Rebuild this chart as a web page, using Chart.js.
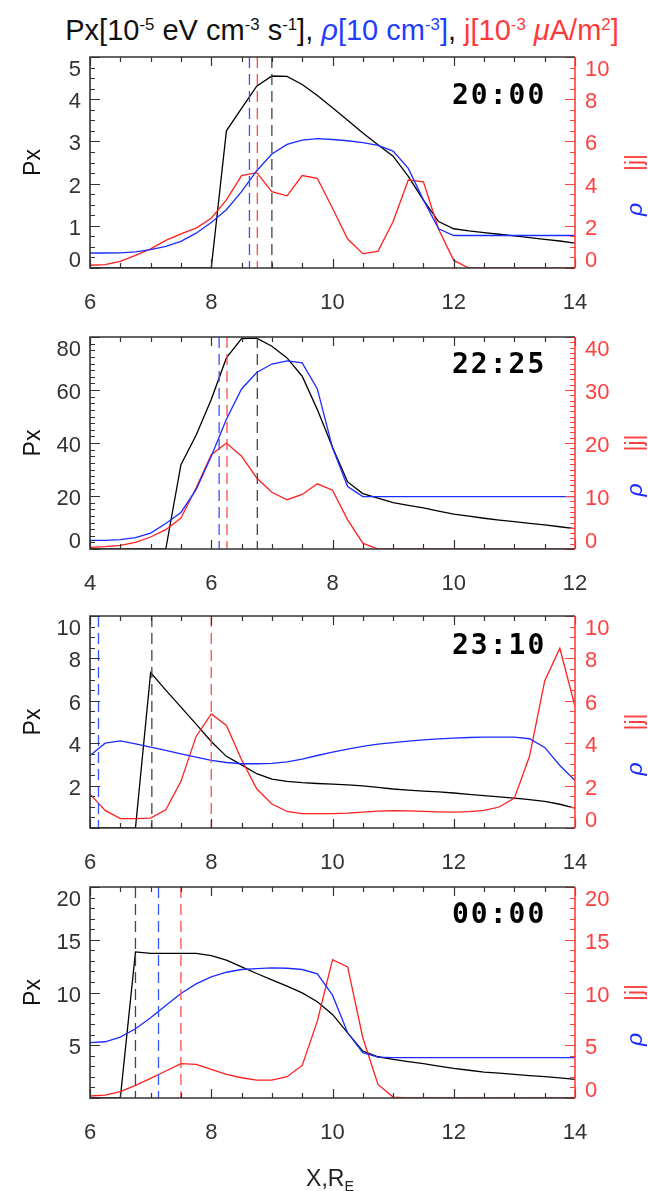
<!DOCTYPE html>
<html>
<head>
<meta charset="utf-8">
<script src="https://cdn.jsdelivr.net/npm/chart.js@4.4.1/dist/chart.umd.min.js"></script>
<style>
  body { margin: 0; background: #fff; width: 648px; height: 1191px; position: relative; overflow: hidden;
         font-family: "Liberation Sans", Arial, sans-serif; }
  canvas { position: absolute; left: 0; }
  #title { position: absolute; left: 18px; width: 648px; top: 16px; text-align: center; font-size: 29px;
           line-height: 29px; white-space: nowrap; color: #111; }
  #xtitle { position: absolute; left: 6px; width: 648px; top: 1166px; text-align: center; font-size: 23px;
            line-height: 24px; color: #222; }
  sup { font-size: 0.58em; vertical-align: 0.62em; line-height: 0; }
  sub { font-size: 0.62em; vertical-align: -0.35em; line-height: 0; }
  .b { color: #1f3dff; }
  .r { color: #ff3a3a; }
</style>
</head>
<body>
<div id="title">Px[10<sup>-5</sup> eV cm<sup>-3</sup> s<sup>-1</sup>], <span class="b"><i>ρ</i>[10 cm<sup>-3</sup>]</span>, <span class="r">j[10<sup>-3</sup> <i>μ</i>A/m<sup>2</sup>]</span></div>
<canvas id="p0" width="648"></canvas>
<canvas id="p1" width="648"></canvas>
<canvas id="p2" width="648"></canvas>
<canvas id="p3" width="648"></canvas>
<div id="xtitle">X,R<sub>E</sub></div>
<script>
// x grids (R_E)
const xGridA = [6, 6.25, 6.5, 6.75, 7, 7.25, 7.5, 7.75, 8, 8.25, 8.5, 8.75, 9, 9.25, 9.5, 9.75, 10,
                10.25, 10.5, 10.75, 11, 11.25, 11.5, 11.75, 12, 12.25, 12.5, 12.75, 13, 13.25, 13.5, 13.75, 14];
const xGridB = [4, 4.25, 4.5, 4.75, 5, 5.25, 5.5, 5.75, 6, 6.25, 6.5, 6.75, 7, 7.25, 7.5, 7.75, 8,
                8.25, 8.5, 8.75, 9, 9.25, 9.5, 9.75, 10, 10.25, 10.5, 10.75, 11, 11.25, 11.5, 11.75, 12];

// 20:00
const px2000  = [0, 0, 0, 0, 0, 0, 0, 0, 0, 3.25, 3.78, 4.31, 4.55, 4.54, 4.35, 4.09, 3.80,
                 3.50, 3.20, 2.92, 2.65, 2.17, 1.61, 1.10, 0.93, 0.88, 0.84, 0.80, 0.76, 0.72, 0.68, 0.64, 0.59];
const rho2000 = [0.71, 0.71, 0.72, 0.76, 0.87, 1.02, 1.26, 1.65, 2.16, 2.76, 3.62, 4.61, 5.40, 5.86, 6.06, 6.13, 6.09,
                 6.03, 5.94, 5.81, 5.54, 4.72, 3.23, 1.86, 1.54, 1.54, 1.54, 1.54, 1.54, 1.54, 1.54, 1.54, 1.54];
const j2000   = [0.13, 0.16, 0.31, 0.6, 0.91, 1.31, 1.62, 1.89, 2.36, 3.23, 4.38, 4.52, 3.62, 3.42, 4.38, 4.25, 2.83,
                 1.37, 0.68, 0.79, 2.2, 4.17, 4.08, 1.84, 0.36, 0, 0, 0, 0, 0, 0, 0, 0];
// 22:25
const px2225  = [0, 0, 0, 0, 0, 0, 31.8, 42.9, 56.4, 72.1, 79.4, 79.6, 76.5, 72.1, 65.2, 52.6, 38.4,
                 25.3, 20.9, 19.2, 17.5, 16.5, 15.5, 14.3, 13.2, 12.4, 11.6, 10.9, 10.3, 9.7, 9.1, 8.4, 7.7];
const rho2225 = [1.64, 1.64, 1.76, 2.14, 3.0, 4.8, 6.9, 11.2, 17.5, 24.5, 30.2, 33.3, 34.9, 35.5, 35.1, 30.2, 19.1,
                 11.8, 9.9, 9.9, 9.9, 9.9, 9.9, 9.9, 9.9, 9.9, 9.9, 9.9, 9.9, 9.9, 9.9, 9.9, 9.9];
const j2225   = [0.3, 0.44, 0.7, 1.26, 2.26, 3.65, 5.85, 11.5, 17.8, 20.0, 17.5, 13.4, 10.7, 9.3, 10.3, 12.3, 11.1,
                 5.5, 1.1, 0, 0, 0, 0, 0, 0, 0, 0, 0, 0, 0, 0, 0, 0];
// 23:10
const px2310  = [0, 0, 0, 0, 7.33, 6.5, 5.7, 4.9, 4.08, 3.38, 2.98, 2.56, 2.31, 2.2, 2.14, 2.1, 2.07,
                 2.03, 1.99, 1.92, 1.84, 1.79, 1.74, 1.70, 1.65, 1.59, 1.53, 1.47, 1.41, 1.34, 1.26, 1.12, 0.94];
const rho2310 = [3.42, 4.0, 4.11, 3.97, 3.81, 3.66, 3.5, 3.34, 3.19, 3.09, 3.03, 3.03, 3.05, 3.12, 3.25, 3.42, 3.58,
                 3.72, 3.85, 3.96, 4.03, 4.10, 4.16, 4.20, 4.24, 4.27, 4.29, 4.29, 4.29, 4.21, 3.80, 2.95, 2.24];
const j2310   = [1.6, 0.83, 0.44, 0.44, 0.47, 0.86, 2.2, 4.32, 5.38, 4.84, 3.22, 1.85, 1.13, 0.78, 0.68, 0.68, 0.68,
                 0.70, 0.75, 0.80, 0.82, 0.81, 0.78, 0.76, 0.75, 0.77, 0.83, 0.99, 1.41, 3.38, 6.94, 8.48, 5.73];
// 00:00
const px0000  = [0, 0, 0, 13.85, 13.7, 13.7, 13.7, 13.7, 13.5, 13.06, 12.43, 11.8, 11.2, 10.6, 9.97, 9.12, 7.92,
                 6.18, 4.45, 3.91, 3.66, 3.45, 3.25, 3.03, 2.81, 2.63, 2.46, 2.35, 2.24, 2.13, 2.02, 1.90, 1.77];
const rho0000 = [5.24, 5.33, 5.77, 6.56, 7.6, 8.77, 9.9, 10.82, 11.48, 11.92, 12.18, 12.27, 12.33, 12.3, 12.18, 11.77, 9.75,
                 6.18, 4.29, 3.88, 3.82, 3.82, 3.82, 3.82, 3.82, 3.82, 3.82, 3.82, 3.82, 3.82, 3.82, 3.82, 3.82];
const j0000   = [0.19, 0.28, 0.6, 1.2, 1.86, 2.56, 3.25, 3.19, 2.71, 2.24, 1.92, 1.7, 1.7, 2.02, 3.09, 7.29, 13.12,
                 12.43, 5.71, 1.29, 0.09, 0, 0, 0, 0, 0, 0, 0, 0, 0, 0, 0, 0];

// dashed markers: [rho, j, Px] positions
const marks2000 = [8.63, 8.76, 9.0];
const marks2225 = [6.13, 6.26, 6.76];
const marks2310 = [6.14, 8.0, 7.02];
const marks0000 = [7.13, 7.5, 6.75];

const times = ['20:00', '22:25', '23:10', '00:00'];
const xRange = [[6, 14], [4, 12], [6, 14], [6, 14]];
const pxMax = [5, 80, 10, 20];
const pxStep = [1, 20, 2, 5];
const pxMinor = [0.25, 2.5, 0.5, 1];
const rjMax = [10, 40, 10, 20];
const rjStep = [2, 10, 2, 5];
const rjMinor = [0.5, 1, 0.5, 1];
const pxZeroLabel = [true, true, false, false];

const panels = [
  { x: xGridA, px: px2000, rho: rho2000, j: j2000, marks: marks2000 },
  { x: xGridB, px: px2225, rho: rho2225, j: j2225, marks: marks2225 },
  { x: xGridA, px: px2310, rho: rho2310, j: j2310, marks: marks2310 },
  { x: xGridA, px: px0000, rho: rho0000, j: j0000, marks: marks0000 }
];

const areaTop = [57, 337, 616, 887];
const areaBottom = [268, 549, 828, 1098];
const timeBase = [47, 36, 38, 36];

const BLACK = '#000', BLUE = '#1a2cff', RED = '#ff1f1f', RED_AX = '#ff4040', GREY = '#333';
const FONT = '"Liberation Sans", Arial, sans-serif';

const pts = (xs, ys) => xs.map((x, i) => ({ x: x, y: ys[i] }));

const framePlugin = {
  id: 'frame',
  afterDatasetsDraw(chart, args, o) {
    const { ctx, chartArea: a, scales } = chart;
    const sx = scales.x, sy = scales.y, sr = scales.y2;
    ctx.save();
    ctx.lineWidth = 1.2;
    // x ticks, top and bottom, inward
    ctx.strokeStyle = GREY;
    ctx.beginPath();
    for (let v = sx.min; v <= sx.max + 1e-9; v += 0.5) {
      const p = Math.round(sx.getPixelForValue(v)) + 0.5;
      const len = Math.abs(v / 2 - Math.round(v / 2)) < 1e-9 ? 9 : 5;
      ctx.moveTo(p, a.bottom); ctx.lineTo(p, a.bottom - len);
      ctx.moveTo(p, a.top); ctx.lineTo(p, a.top + len);
    }
    // left ticks
    for (let v = 0; v <= sy.max + 1e-9; v += o.pxMinor) {
      const p = Math.round(sy.getPixelForValue(v)) + 0.5;
      const major = Math.abs(v / o.pxStep - Math.round(v / o.pxStep)) < 1e-9;
      ctx.moveTo(a.left, p); ctx.lineTo(a.left + (major ? 10 : 5), p);
    }
    ctx.stroke();
    // right ticks
    ctx.strokeStyle = RED_AX;
    ctx.beginPath();
    for (let v = 0; v <= sr.max + 1e-9; v += o.rjMinor) {
      const p = Math.round(sr.getPixelForValue(v)) + 0.5;
      const major = Math.abs(v / o.rjStep - Math.round(v / o.rjStep)) < 1e-9;
      ctx.moveTo(a.right, p); ctx.lineTo(a.right - (major ? 10 : 5), p);
    }
    ctx.stroke();
    // frame
    ctx.lineWidth = 1.6;
    ctx.strokeStyle = GREY;
    ctx.beginPath();
    ctx.moveTo(a.right, a.top); ctx.lineTo(a.left, a.top); ctx.lineTo(a.left, a.bottom); ctx.lineTo(a.right, a.bottom);
    ctx.stroke();
    ctx.strokeStyle = RED_AX;
    ctx.beginPath(); ctx.moveTo(a.right, a.top); ctx.lineTo(a.right, a.bottom); ctx.stroke();

    // y tick labels
    ctx.font = '22px ' + FONT;
    ctx.textBaseline = 'middle';
    const labelY = p => Math.min(Math.max(p + 3, a.top + 13), a.bottom - 7);
    ctx.fillStyle = GREY;
    ctx.textAlign = 'right';
    sy.ticks.forEach(t => {
      if (t.value === 0 && !o.zeroLabel) return;
      ctx.fillText(String(t.value), a.left - 9, labelY(sy.getPixelForValue(t.value)));
    });
    ctx.fillStyle = RED_AX;
    ctx.textAlign = 'left';
    sr.ticks.forEach(t => {
      ctx.fillText(String(t.value), a.right + 10, labelY(sr.getPixelForValue(t.value)));
    });

    // axis titles
    const mid = (a.top + a.bottom) / 2;
    ctx.textAlign = 'center';
    ctx.save();
    ctx.translate(34, mid); ctx.rotate(-Math.PI / 2);
    ctx.fillStyle = '#111';
    ctx.font = '23px ' + FONT;
    ctx.fillText('Px', 0, 0);
    ctx.restore();
    ctx.save();
    ctx.translate(636, mid); ctx.rotate(-Math.PI / 2);
    ctx.fillStyle = RED_AX;
    ctx.font = '23px ' + FONT;
    ctx.fillText('|j|', 0, 0);
    ctx.fillStyle = BLUE;
    ctx.font = 'italic 23px ' + FONT;
    ctx.fillText('ρ', -47, 0);
    ctx.restore();

    // time stamp
    ctx.fillStyle = '#000';
    ctx.font = 'bold 28px "DejaVu Sans Mono", monospace';
    ctx.letterSpacing = '2px';
    ctx.textAlign = 'left';
    ctx.textBaseline = 'alphabetic';
    ctx.fillText(o.time, 452, a.top + o.timeBase);
    ctx.restore();
  }
};

panels.forEach((p, i) => {
  const canvas = document.getElementById('p' + i);
  const padTop = 20, xAxisH = 62;
  canvas.style.top = (areaTop[i] - padTop) + 'px';
  canvas.height = areaBottom[i] - areaTop[i] + padTop + xAxisH;

  const line = (data, color, axis) => ({
    data: data, borderColor: color, borderWidth: 1.3, pointRadius: 0, tension: 0, yAxisID: axis
  });
  const dash = (xv, color) => ({
    data: [{ x: xv, y: pxMax[i] }, { x: xv, y: 0 }],
    borderColor: color, borderWidth: 1.3, borderDash: [11, 6], pointRadius: 0, yAxisID: 'y'
  });

  new Chart(canvas, {
    type: 'line',
    data: {
      datasets: [
        dash(p.marks[0], '#3355ff'),
        dash(p.marks[1], '#ff4a4a'),
        dash(p.marks[2], '#444'),
        line(pts(p.x, p.rho), BLUE, 'y2'),
        line(pts(p.x, p.j), RED, 'y2'),
        line(pts(p.x, p.px), BLACK, 'y')
      ]
    },
    plugins: [framePlugin],
    options: {
      responsive: false,
      animation: false,
      events: [],
      layout: { padding: { top: padTop, left: 0, right: 0, bottom: 0 } },
      plugins: {
        legend: { display: false },
        tooltip: { enabled: false },
        frame: {
          time: times[i], timeBase: timeBase[i], zeroLabel: pxZeroLabel[i],
          pxStep: pxStep[i], pxMinor: pxMinor[i], rjStep: rjStep[i], rjMinor: rjMinor[i]
        }
      },
      scales: {
        x: {
          type: 'linear', position: 'bottom', min: xRange[i][0], max: xRange[i][1],
          grid: { display: false, drawTicks: false },
          border: { display: false },
          ticks: { stepSize: 2, maxRotation: 0, padding: 22, color: GREY, font: { family: FONT, size: 22 } },
          afterFit: s => { s.height = xAxisH; }
        },
        y: {
          position: 'left', min: 0, max: pxMax[i],
          grid: { display: false, drawTicks: false },
          border: { display: false },
          ticks: { stepSize: pxStep[i], display: false },
          afterFit: s => { s.width = 90; }
        },
        y2: {
          position: 'right', min: 0, max: rjMax[i],
          grid: { display: false, drawTicks: false },
          border: { display: false },
          ticks: { stepSize: rjStep[i], display: false },
          afterFit: s => { s.width = 73; }
        }
      }
    }
  });
});
</script>
</body>
</html>
